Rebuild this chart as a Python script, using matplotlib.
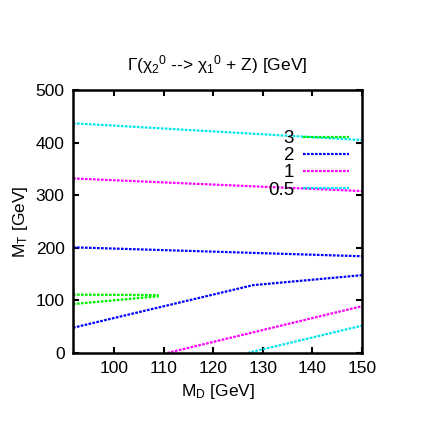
import matplotlib
matplotlib.use("Agg")
import matplotlib.pyplot as plt

plt.rcParams['font.family'] = ['Liberation Sans', 'DejaVu Sans']
plt.rcParams['mathtext.fontset'] = 'custom'
plt.rcParams['mathtext.rm'] = 'Liberation Sans'
plt.rcParams['mathtext.it'] = 'Liberation Sans'

# contour levels and their line pieces (M_D, M_T)
levels = ["3", "2", "1", "0.5"]
colors = ["#00ee00", "#0000ff", "#ff00ff", "#00e5ee"]

lvl3_a_x = [91.7, 109.0]; lvl3_a_y = [111, 110]
lvl3_b_x = [91.7, 109.0]; lvl3_b_y = [93, 108]
lvl2_a_x = [91.7, 150.0]; lvl2_a_y = [201, 184]
lvl2_b_x = [91.7, 128.0, 150.0]; lvl2_b_y = [48, 129, 148]
lvl1_a_x = [91.7, 150.0]; lvl1_a_y = [332, 308]
lvl1_b_x = [110.7, 150.0]; lvl1_b_y = [0, 89]
lvl05_a_x = [91.7, 150.0]; lvl05_a_y = [437, 405]
lvl05_b_x = [126.9, 150.0]; lvl05_b_y = [0, 52]

pieces = {
    "3": [(lvl3_a_x, lvl3_a_y), (lvl3_b_x, lvl3_b_y)],
    "2": [(lvl2_a_x, lvl2_a_y), (lvl2_b_x, lvl2_b_y)],
    "1": [(lvl1_a_x, lvl1_a_y), (lvl1_b_x, lvl1_b_y)],
    "0.5": [(lvl05_a_x, lvl05_a_y), (lvl05_b_x, lvl05_b_y)],
}

x_ticks = [100, 110, 120, 130, 140, 150]
y_ticks = [0, 100, 200, 300, 400, 500]

fig = plt.figure(figsize=(4.36, 4.44), dpi=100)
ax = fig.add_axes([0.1674, 0.205, 0.6629, 0.592])

handles = []
for lvl, c in zip(levels, colors):
    h = None
    for xs, ys in pieces[lvl]:
        (h,) = ax.plot(xs, ys, color=c, lw=1.6, ls=(0, (1.2, 0.6)), label=lvl)
    handles.append(h)

ax.set_xlim(91.7, 150)
ax.set_ylim(0, 500)
ax.set_xticks(x_ticks)
ax.set_yticks(y_ticks)
ax.tick_params(direction='in', length=4, width=1.5, top=True, right=True,
               labelsize=12.5, pad=6, colors='black')
for s in ax.spines.values():
    s.set_linewidth(1.8)

ax.set_xlabel(r'M$_\mathregular{D}$ [GeV]', fontsize=12.5, labelpad=4)
ax.set_ylabel(r'M$_\mathregular{T}$ [GeV]', fontsize=12.5, labelpad=4)
ax.set_title(r'$\Gamma$($\chi_2$$^\mathregular{0}$ --> $\chi_1$$^\mathregular{0}$ + Z) [GeV]',
             fontsize=12.5, pad=14)

leg = ax.legend(handles, levels, loc='upper right', bbox_to_anchor=(1.002, 0.898),
                frameon=False, markerfirst=False, fontsize=13.5, handlelength=2.5,
                handletextpad=0.45, labelspacing=0.0, borderaxespad=0.3)
for t in leg.get_texts():
    t.set_ha('right')

fig.savefig('out.png', dpi=100)
